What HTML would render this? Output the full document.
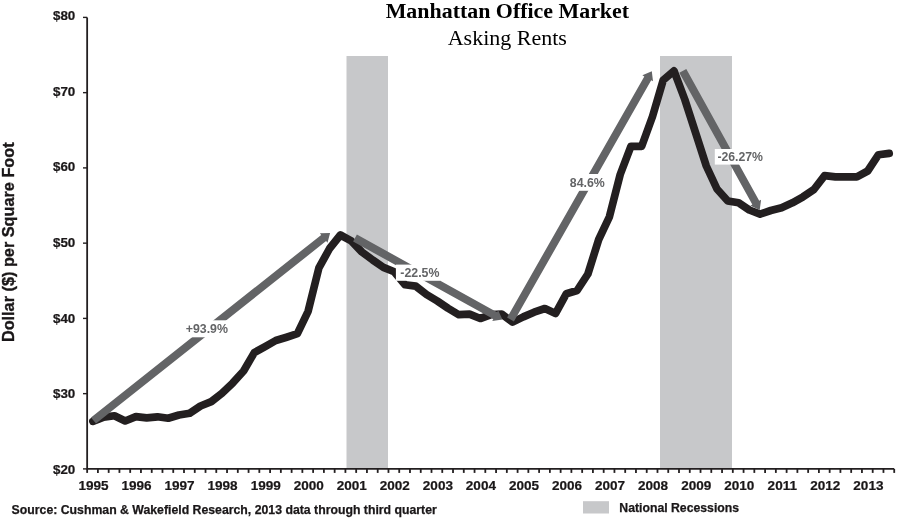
<!DOCTYPE html>
<html><head><meta charset="utf-8"><title>Manhattan Office Market</title>
<style>
html,body{margin:0;padding:0;background:#fff}
svg{display:block}
text{font-family:"Liberation Sans",Arial,Helvetica,sans-serif;font-weight:bold;fill:#1a1718}
.ser{font-family:"Liberation Serif","Times New Roman",serif}
</style></head><body>
<svg width="897" height="532" viewBox="0 0 897 532">
<rect width="897" height="532" fill="#fff"/>
<!-- recession bars -->
<rect x="346.5" y="56" width="41.5" height="412.5" fill="#c7c8ca"/>
<rect x="660" y="56" width="72" height="412.5" fill="#c7c8ca"/>
<!-- data line -->
<path d="M92.9,421.3 L103.7,417.1 L114.4,415.8 L125.2,421.0 L135.9,416.6 L146.7,417.9 L157.5,416.8 L168.2,418.2 L179.0,415.0 L189.7,413.2 L200.5,406.0 L211.3,401.6 L222.0,393.3 L232.8,382.9 L243.6,371.0 L254.3,352.6 L265.1,346.6 L275.8,340.5 L286.6,337.2 L297.4,333.7 L308.1,311.3 L318.9,267.9 L329.6,248.5 L340.4,235.0 L351.2,240.8 L361.9,252.0 L372.7,260.0 L383.4,267.4 L394.2,271.8 L405.0,284.7 L415.7,286.1 L426.5,294.5 L437.3,301.0 L448.0,308.2 L458.8,314.7 L469.5,314.1 L480.3,318.5 L491.1,314.7 L501.8,314.2 L512.6,322.1 L523.3,316.9 L534.1,312.2 L544.9,308.5 L555.6,313.4 L566.4,293.7 L577.1,290.5 L587.9,274.0 L598.7,239.5 L609.4,216.8 L620.2,174.5 L630.9,146.3 L641.7,146.3 L652.5,116.5 L663.2,80.2 L674.0,70.9 L684.8,99.5 L695.5,132.5 L706.3,166.0 L717.0,189.0 L727.8,201.0 L738.6,202.8 L749.3,210.0 L760.1,214.1 L770.8,210.5 L781.6,207.8 L792.4,202.8 L803.1,196.8 L813.9,189.5 L824.6,175.7 L835.4,176.9 L846.2,176.8 L856.9,176.8 L867.7,171.0 L878.5,154.7 L889.2,153.4" fill="none" stroke="#231f20" stroke-width="7.7" stroke-linejoin="round" stroke-linecap="round"/>
<!-- arrows -->
<g fill="#636466"><path d="M96.0,423.6 L326.1,241.1 L327.5,242.8 L330.1,232.9 L319.9,233.2 L321.2,234.9 L91.0,417.4Z"/><path d="M353.1,241.5 L493.3,319.1 L492.3,321.0 L502.4,319.6 L498.2,310.3 L497.1,312.2 L356.9,234.5Z"/><path d="M513.9,321.5 L651.2,80.3 L653.0,81.3 L651.8,71.2 L642.4,75.3 L644.3,76.4 L507.1,317.5Z"/><path d="M679.3,72.7 L752.3,204.6 L750.4,205.7 L759.7,209.9 L761.1,199.8 L759.2,200.8 L686.3,68.9Z"/></g>
<!-- labels over arrows -->
<g font-size="12.35" fill="#636466">
<rect x="182" y="320.3" width="50" height="17" fill="#fff"/>
<text x="185.7" y="333.3" style="fill:#636466">+93.9%</text>
<rect x="395.9" y="264.6" width="44" height="16.2" fill="#fff"/>
<text x="400.3" y="276.7" style="fill:#636466">-22.5%</text>
<rect x="566" y="174" width="42" height="16.8" fill="#fff"/>
<text x="569.8" y="187.2" style="fill:#636466">84.6%</text>
<rect x="714.8" y="149" width="48.4" height="15.6" fill="#fff"/>
<text x="717.4" y="161.3" font-size="12.25" style="fill:#636466">-26.27%</text>
</g>
<!-- axes -->
<g stroke="#231f20" stroke-width="1.8" fill="none">
<path d="M87.15,17.4V468.9H894.2"/>
<path d="M87.15,468.9v4"/><path d="M97.91,468.9v4"/><path d="M108.67,468.9v4"/><path d="M119.43,468.9v4"/><path d="M130.19,468.9v4"/><path d="M140.95,468.9v4"/><path d="M151.72,468.9v4"/><path d="M162.48,468.9v4"/><path d="M173.24,468.9v4"/><path d="M184.00,468.9v4"/><path d="M194.76,468.9v4"/><path d="M205.52,468.9v4"/><path d="M216.28,468.9v4"/><path d="M227.04,468.9v4"/><path d="M237.80,468.9v4"/><path d="M248.56,468.9v4"/><path d="M259.33,468.9v4"/><path d="M270.09,468.9v4"/><path d="M280.85,468.9v4"/><path d="M291.61,468.9v4"/><path d="M302.37,468.9v4"/><path d="M313.13,468.9v4"/><path d="M323.89,468.9v4"/><path d="M334.65,468.9v4"/><path d="M345.41,468.9v4"/><path d="M356.17,468.9v4"/><path d="M366.94,468.9v4"/><path d="M377.70,468.9v4"/><path d="M388.46,468.9v4"/><path d="M399.22,468.9v4"/><path d="M409.98,468.9v4"/><path d="M420.74,468.9v4"/><path d="M431.50,468.9v4"/><path d="M442.26,468.9v4"/><path d="M453.02,468.9v4"/><path d="M463.78,468.9v4"/><path d="M474.55,468.9v4"/><path d="M485.31,468.9v4"/><path d="M496.07,468.9v4"/><path d="M506.83,468.9v4"/><path d="M517.59,468.9v4"/><path d="M528.35,468.9v4"/><path d="M539.11,468.9v4"/><path d="M549.87,468.9v4"/><path d="M560.63,468.9v4"/><path d="M571.39,468.9v4"/><path d="M582.16,468.9v4"/><path d="M592.92,468.9v4"/><path d="M603.68,468.9v4"/><path d="M614.44,468.9v4"/><path d="M625.20,468.9v4"/><path d="M635.96,468.9v4"/><path d="M646.72,468.9v4"/><path d="M657.48,468.9v4"/><path d="M668.24,468.9v4"/><path d="M679.00,468.9v4"/><path d="M689.77,468.9v4"/><path d="M700.53,468.9v4"/><path d="M711.29,468.9v4"/><path d="M722.05,468.9v4"/><path d="M732.81,468.9v4"/><path d="M743.57,468.9v4"/><path d="M754.33,468.9v4"/><path d="M765.09,468.9v4"/><path d="M775.85,468.9v4"/><path d="M786.61,468.9v4"/><path d="M797.38,468.9v4"/><path d="M808.14,468.9v4"/><path d="M818.90,468.9v4"/><path d="M829.66,468.9v4"/><path d="M840.42,468.9v4"/><path d="M851.18,468.9v4"/><path d="M861.94,468.9v4"/><path d="M872.70,468.9v4"/><path d="M883.46,468.9v4"/><path d="M894.22,468.9v4"/>
<path d="M83,17.40h4.2" stroke-width="1.4"/><path d="M83,92.65h4.2" stroke-width="1.4"/><path d="M83,167.90h4.2" stroke-width="1.4"/><path d="M83,243.15h4.2" stroke-width="1.4"/><path d="M83,318.40h4.2" stroke-width="1.4"/><path d="M83,393.65h4.2" stroke-width="1.4"/><path d="M83,468.90h4.2" stroke-width="1.4"/>
</g>
<g font-size="12.3" stroke="#1a1718" stroke-width="0.2"><text transform="translate(75.3,20.2) scale(1.09,1)" text-anchor="end">$80</text><text transform="translate(75.3,95.8) scale(1.09,1)" text-anchor="end">$70</text><text transform="translate(75.3,171.3) scale(1.09,1)" text-anchor="end">$60</text><text transform="translate(75.3,246.9) scale(1.09,1)" text-anchor="end">$50</text><text transform="translate(75.3,322.5) scale(1.09,1)" text-anchor="end">$40</text><text transform="translate(75.3,398.0) scale(1.09,1)" text-anchor="end">$30</text><text transform="translate(75.3,473.6) scale(1.09,1)" text-anchor="end">$20</text></g>
<g font-size="12.2" stroke="#1a1718" stroke-width="0.2"><text transform="translate(93.5,490) scale(1.11,1)" text-anchor="middle">1995</text><text transform="translate(136.6,490) scale(1.11,1)" text-anchor="middle">1996</text><text transform="translate(179.6,490) scale(1.11,1)" text-anchor="middle">1997</text><text transform="translate(222.6,490) scale(1.11,1)" text-anchor="middle">1998</text><text transform="translate(265.7,490) scale(1.11,1)" text-anchor="middle">1999</text><text transform="translate(308.8,490) scale(1.11,1)" text-anchor="middle">2000</text><text transform="translate(351.8,490) scale(1.11,1)" text-anchor="middle">2001</text><text transform="translate(394.8,490) scale(1.11,1)" text-anchor="middle">2002</text><text transform="translate(437.9,490) scale(1.11,1)" text-anchor="middle">2003</text><text transform="translate(480.9,490) scale(1.11,1)" text-anchor="middle">2004</text><text transform="translate(524.0,490) scale(1.11,1)" text-anchor="middle">2005</text><text transform="translate(567.0,490) scale(1.11,1)" text-anchor="middle">2006</text><text transform="translate(610.1,490) scale(1.11,1)" text-anchor="middle">2007</text><text transform="translate(653.1,490) scale(1.11,1)" text-anchor="middle">2008</text><text transform="translate(696.2,490) scale(1.11,1)" text-anchor="middle">2009</text><text transform="translate(739.2,490) scale(1.11,1)" text-anchor="middle">2010</text><text transform="translate(782.3,490) scale(1.11,1)" text-anchor="middle">2011</text><text transform="translate(825.3,490) scale(1.11,1)" text-anchor="middle">2012</text><text transform="translate(868.4,490) scale(1.11,1)" text-anchor="middle">2013</text></g>
<text transform="translate(13.7,342.1) scale(1.07,1) rotate(-90)" font-size="16.28" stroke="#1a1718" stroke-width="0.35">Dollar ($) per Square Foot</text>
<text class="ser" x="507.4" y="18.4" font-size="20" text-anchor="middle" textLength="243.4" style="fill:#000" lengthAdjust="spacingAndGlyphs">Manhattan Office Market</text>
<text class="ser" x="507.3" y="44.7" font-size="22" text-anchor="middle" style="font-weight:normal;fill:#000">Asking Rents</text>
<text x="11.6" y="514" font-size="12.2" stroke="#1a1718" stroke-width="0.25" textLength="425.2" lengthAdjust="spacingAndGlyphs">Source: Cushman &amp; Wakefield Research, 2013 data through third quarter</text>
<rect x="583" y="501.2" width="26" height="12.3" fill="#c7c8ca"/>
<text x="619.3" y="511.6" font-size="12.25" stroke="#1a1718" stroke-width="0.25">National Recessions</text>
</svg>
</body></html>
